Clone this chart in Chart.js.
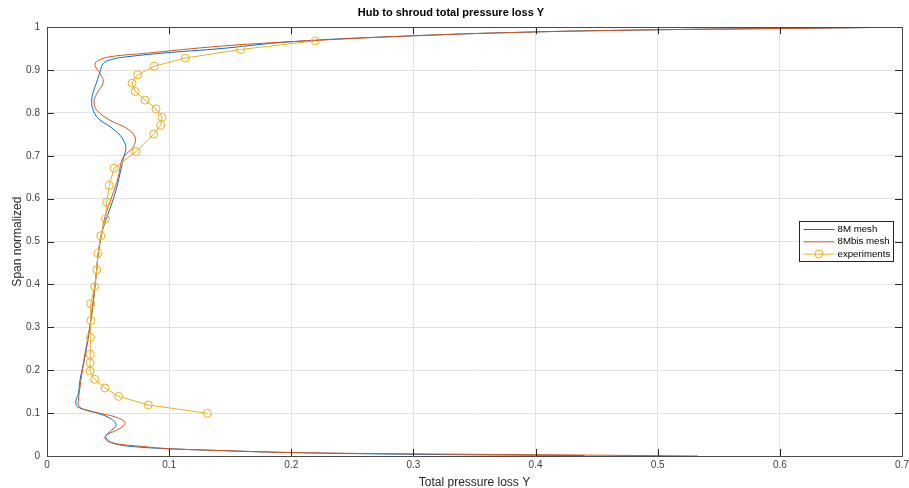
<!DOCTYPE html>
<html>
<head>
<meta charset="utf-8">
<script src="https://cdn.jsdelivr.net/npm/chart.js@4"></script>
<style>
  html, body { margin: 0; padding: 0; background: #fff; }
  #wrap { width: 909px; height: 488px; }
</style>
</head>
<body>
<div id="wrap"><canvas id="lossChart"></canvas></div>
<script>
// 8M mesh (hub to shroud)
let meshX = [0.44, 0.3, 0.2, 0.15, 0.1, 0.0707, 0.054, 0.048, 0.050, 0.0565, 0.0516, 0.038, 0.0248, 0.0238, 0.0257,
  0.027, 0.031, 0.035, 0.038, 0.0405, 0.042, 0.0448, 0.0502, 0.0557, 0.0598, 0.0625, 0.0645, 0.0639, 0.0598, 0.0516,
  0.042, 0.0374, 0.0366, 0.0379, 0.0407, 0.0434, 0.0461, 0.053, 0.0653, 0.1007, 0.1417, 0.199, 0.30, 0.40, 0.50, 0.60, 0.70]
let meshY = [0.001, 0.004, 0.008, 0.012, 0.017, 0.022, 0.030, 0.044, 0.053, 0.072, 0.088, 0.103, 0.115, 0.13, 0.146,
  0.177, 0.23, 0.30, 0.364, 0.43, 0.4725, 0.519, 0.566, 0.612, 0.659, 0.694, 0.715, 0.728, 0.748, 0.768,
  0.787, 0.81, 0.83, 0.849, 0.8725, 0.896, 0.9155, 0.925, 0.931, 0.941, 0.950, 0.966, 0.980, 0.989, 0.994, 0.997, 1.0]

// 8Mbis mesh
let bisX = [0.533, 0.4, 0.3, 0.2, 0.15, 0.1, 0.079, 0.054, 0.0475, 0.0489, 0.0598, 0.0639, 0.057, 0.0434, 0.0297, 0.0257,
  0.0257, 0.027, 0.030, 0.035, 0.038, 0.0405, 0.042, 0.0448, 0.0475, 0.053, 0.0584, 0.0612, 0.0653, 0.0707, 0.0721,
  0.0653, 0.0516, 0.0407, 0.0385, 0.0407, 0.0461, 0.0434, 0.0393, 0.0412, 0.0516, 0.0789, 0.1417, 0.199, 0.30, 0.40,
  0.50, 0.60, 0.70]
let bisY = [0.0, 0.003, 0.005, 0.008, 0.012, 0.017, 0.022, 0.030, 0.040, 0.049, 0.0645, 0.0777, 0.090, 0.0995, 0.109, 0.119,
  0.1305, 0.16, 0.22, 0.30, 0.364, 0.43, 0.4725, 0.519, 0.558, 0.604, 0.651, 0.690, 0.7055, 0.721, 0.744,
  0.764, 0.783, 0.8065, 0.826, 0.845, 0.8725, 0.892, 0.911, 0.9215, 0.931, 0.9387, 0.9557, 0.966, 0.980, 0.989,
  0.994, 0.997, 1.0]

// experiments
let expX = [0.1313, 0.083, 0.0587, 0.0475, 0.039, 0.0352, 0.0352, 0.0355, 0.0355, 0.036, 0.0358, 0.039, 0.0407, 0.0418,
  0.044, 0.0478, 0.0489, 0.051, 0.0549, 0.0729, 0.0874, 0.0931, 0.0942, 0.0893, 0.0803, 0.0723, 0.0696, 0.0743,
  0.0879, 0.1133, 0.1586, 0.2197]
let expY = [0.0995, 0.119, 0.139, 0.1585, 0.179, 0.198, 0.2175, 0.237, 0.2767, 0.316, 0.355, 0.3947, 0.434, 0.473,
  0.5135, 0.5525, 0.592, 0.631, 0.671, 0.710, 0.7506, 0.771, 0.790, 0.8096, 0.830, 0.850, 0.8695, 0.889,
  0.9091, 0.928, 0.948, 0.968]

let xTicks = [0, 0.1, 0.2, 0.3, 0.4, 0.5, 0.6, 0.7]
let yTicks = [0, 0.1, 0.2, 0.3, 0.4, 0.5, 0.6, 0.7, 0.8, 0.9, 1]

function toPoints(xs, ys) {
  return xs.map((x, i) => ({ x: x, y: ys[i] }))
}

const FONT = "'Liberation Sans', Arial, sans-serif"

// frame, inward tick marks and the legend box, MATLAB style
const matlabAxes = {
  id: 'matlabAxes',
  afterDraw(chart) {
    const ctx = chart.ctx
    const a = chart.chartArea
    const xs = chart.scales.x
    const ys = chart.scales.y
    ctx.save()
    ctx.strokeStyle = '#262626'
    ctx.lineWidth = 1
    ctx.beginPath()
    xTicks.forEach(v => {
      const px = Math.round(xs.getPixelForValue(v)) + 0.5
      ctx.moveTo(px, a.bottom); ctx.lineTo(px, a.bottom - 7)
      ctx.moveTo(px, a.top); ctx.lineTo(px, a.top + 7)
    })
    yTicks.forEach(v => {
      const py = Math.round(ys.getPixelForValue(v)) + 0.5
      ctx.moveTo(a.left, py); ctx.lineTo(a.left + 7, py)
      ctx.moveTo(a.right, py); ctx.lineTo(a.right - 7, py)
    })
    ctx.stroke()
    ctx.strokeStyle = '#4a4a4a'
    ctx.strokeRect(Math.round(a.left) + 0.5, Math.round(a.top) + 0.5,
      Math.round(a.right - a.left), Math.round(a.bottom - a.top))

    // legend, in dataset order
    const bx = 799.5, by = 221.5, bw = 94, bh = 40
    ctx.fillStyle = '#fff'
    ctx.fillRect(bx, by, bw, bh)
    ctx.strokeStyle = '#262626'
    ctx.strokeRect(bx, by, bw, bh)
    ctx.font = '9.7px ' + FONT
    ctx.textBaseline = 'middle'
    chart.data.datasets.forEach((ds, i) => {
      const yy = by + 8 + i * 12.3
      ctx.strokeStyle = ds.borderColor
      ctx.lineWidth = 1
      ctx.beginPath()
      ctx.moveTo(bx + 4, yy); ctx.lineTo(bx + 35, yy)
      ctx.stroke()
      if (ds.pointRadius > 0) {
        ctx.beginPath()
        ctx.arc(bx + 19.5, yy, 4, 0, Math.PI * 2)
        ctx.stroke()
      }
      ctx.fillStyle = '#000'
      ctx.fillText(ds.label, bx + 38, yy)
    })
    ctx.restore()
  }
}

let ctx = document.getElementById('lossChart').getContext('2d')

let lossChart = new Chart(ctx, {
  type: 'scatter',
  data: {
    datasets: [{
      label: '8M mesh',
      data: toPoints(meshX, meshY),
      showLine: true,
      borderColor: '#0072BD',
      borderWidth: 1,
      pointRadius: 0,
      tension: 0.4,
      order: 3
    }, {
      label: '8Mbis mesh',
      data: toPoints(bisX, bisY),
      showLine: true,
      borderColor: '#D95319',
      borderWidth: 1,
      pointRadius: 0,
      tension: 0.4,
      order: 2
    }, {
      label: 'experiments',
      data: toPoints(expX, expY),
      showLine: true,
      borderColor: '#EDB120',
      borderWidth: 1,
      pointRadius: 4,
      pointBorderWidth: 1,
      pointBorderColor: '#EDB120',
      pointBackgroundColor: 'rgba(0,0,0,0)',
      tension: 0,
      order: 1
    }]
  },
  options: {
    responsive: true,
    maintainAspectRatio: false,
    animation: false,
    layout: { padding: { left: 0, right: 7, top: 0, bottom: 0 } },
    plugins: {
      legend: { display: false },
      tooltip: { enabled: false },
      title: {
        display: true,
        text: 'Hub to shroud total pressure loss Y',
        color: '#000',
        font: { family: FONT, size: 11, weight: 'bold' },
        padding: { top: 6, bottom: 8 }
      }
    },
    scales: {
      x: {
        type: 'linear',
        min: 0,
        max: 0.7,
        afterBuildTicks: s => { s.ticks = xTicks.map(v => ({ value: v })) },
        afterFit: s => { s.height = 32; s.paddingLeft = 0; s.paddingRight = 0 },
        grid: { color: '#e3e3e3', drawTicks: false },
        border: { display: false },
        ticks: {
          padding: 3,
          color: '#404040',
          font: { family: FONT, size: 10 },
          callback: v => String(+v.toFixed(2))
        },
        title: {
          display: true,
          text: 'Total pressure loss Y',
          color: '#262626',
          font: { family: FONT, size: 12 },
          padding: { top: 0, bottom: -2 }
        }
      },
      y: {
        type: 'linear',
        min: 0,
        max: 1,
        afterBuildTicks: s => { s.ticks = yTicks.map(v => ({ value: v })) },
        afterFit: s => { s.width = 47; s.paddingTop = 0; s.paddingBottom = 0 },
        grid: { color: '#e3e3e3', drawTicks: false },
        border: { display: false },
        ticks: {
          padding: 7,
          color: '#404040',
          font: { family: FONT, size: 10 },
          callback: v => String(+v.toFixed(2))
        },
        title: {
          display: true,
          text: 'Span normalized',
          color: '#262626',
          font: { family: FONT, size: 12 },
          padding: { top: 10, bottom: 0 }
        }
      }
    }
  },
  plugins: [matlabAxes]
})
</script>
</body>
</html>
